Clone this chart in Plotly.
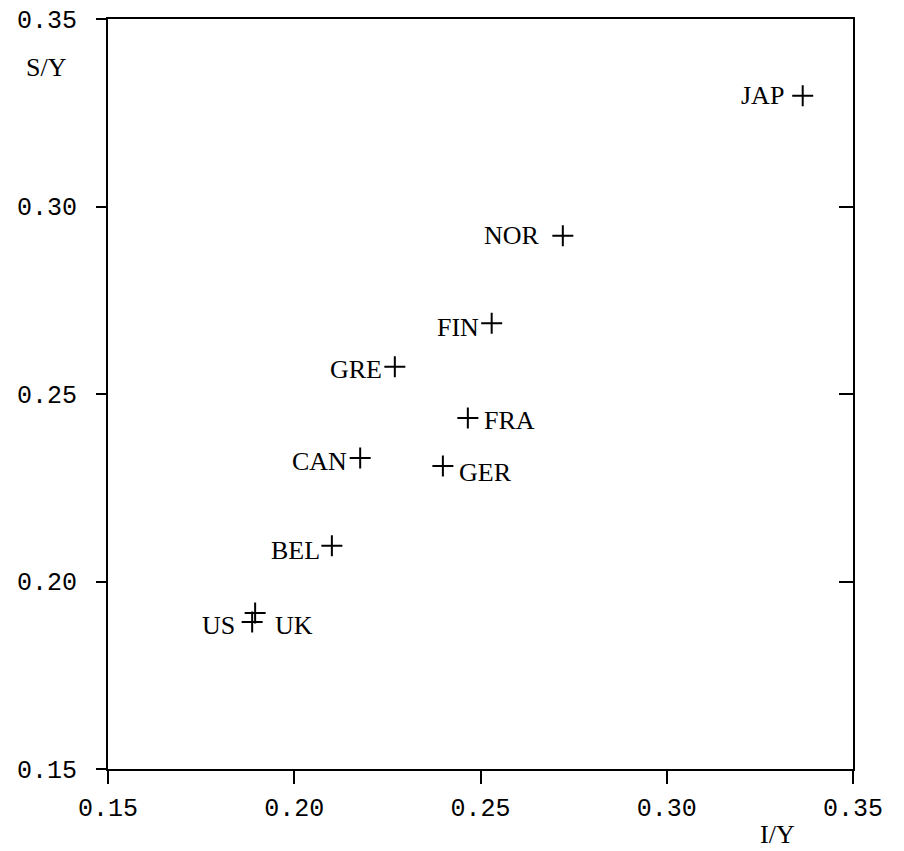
import plotly.graph_objects as go

# Investment and saving ratios (share of output) by country
countries = ["JAP", "NOR", "FIN", "GRE", "FRA", "CAN", "GER", "BEL", "US", "UK"]
invest_ratio = [0.3365, 0.2721, 0.2530, 0.2270, 0.2466, 0.2177, 0.2399, 0.2101, 0.1887, 0.1895]
saving_ratio = [0.3295, 0.2922, 0.2689, 0.2573, 0.2436, 0.2329, 0.2308, 0.2095, 0.1892, 0.1916]

tick_vals = [0.15, 0.20, 0.25, 0.30, 0.35]
tick_text = ["0.15", "0.20", "0.25", "0.30", "0.35"]
inner_ticks = [0.20, 0.25, 0.30]

# label placement: side of the cross and pixel offsets from its centre
label_side = ["left", "left", "left", "left", "right", "left", "right", "left", "left", "right"]
label_dx = [-17, -21, -11, -11, 14, -11, 14, -10, -15, 18]
label_dy = [0, 0, -4, -3, -2, -3, -6, -5, -3, -12]

serif = "Liberation Serif"
mono = "Liberation Mono"

fig = go.Figure()
fig.add_trace(go.Scatter(
    x=invest_ratio, y=saving_ratio, mode="markers",
    marker=dict(symbol="cross-thin", size=15, line=dict(width=2, color="black"), color="black"),
    hoverinfo="text", text=countries, showlegend=False,
))
# carrier trace for the right-hand inner tick axis
fig.add_trace(go.Scatter(x=[None], y=[None], yaxis="y2", showlegend=False, hoverinfo="skip"))

for name, xv, yv, side, dx, dy in zip(countries, invest_ratio, saving_ratio, label_side, label_dx, label_dy):
    fig.add_annotation(
        x=xv, y=yv, text=name, showarrow=False,
        xanchor="right" if side == "left" else "left", yanchor="middle",
        xshift=dx, yshift=dy,
        font=dict(family=serif, size=26, color="black"),
    )

fig.add_annotation(xref="paper", yref="paper", x=-0.082, y=0.935, text="S/Y", showarrow=False,
                   xanchor="center", yanchor="middle",
                   font=dict(family=serif, size=26, color="black"))
fig.add_annotation(xref="paper", yref="paper", x=0.899, y=-0.087, text="I/Y", showarrow=False,
                   xanchor="center", yanchor="middle",
                   font=dict(family=serif, size=26, color="black"))

fig.update_layout(
    width=904, height=851,
    margin=dict(l=108, r=51, t=19, b=82),
    paper_bgcolor="white", plot_bgcolor="white",
    xaxis=dict(
        range=[0.15, 0.35], tickvals=tick_vals, ticktext=tick_text, automargin=False,
        showgrid=False, zeroline=False, showline=True, mirror=True,
        linecolor="black", linewidth=2,
        ticks="outside", ticklen=13, tickwidth=2, tickcolor="black",
        tickfont=dict(family=mono, size=25, color="black"),
        ticklabelstandoff=2,
    ),
    yaxis=dict(
        range=[0.15, 0.35], tickvals=tick_vals, ticktext=tick_text, automargin=False,
        showgrid=False, zeroline=False, showline=True, mirror=True,
        linecolor="black", linewidth=2,
        ticks="outside", ticklen=10, tickwidth=2, tickcolor="black",
        tickfont=dict(family=mono, size=25, color="black"),
        ticklabelstandoff=14,
    ),
    yaxis2=dict(
        range=[0.15, 0.35], overlaying="y", side="right", automargin=False,
        tickvals=inner_ticks, showticklabels=False,
        showgrid=False, zeroline=False, showline=False,
        ticks="inside", ticklen=14, tickwidth=2, tickcolor="black",
    ),
)

fig.write_html("out.html")
